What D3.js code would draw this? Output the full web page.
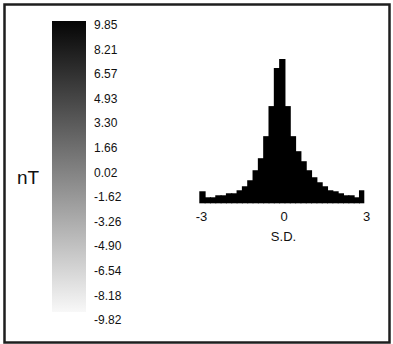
<!DOCTYPE html>
<html>
<head>
<meta charset="utf-8">
<script src="https://cdn.jsdelivr.net/npm/d3@7"></script>
<style>
    body { margin: 0; background: #fff; }
    text { font-family: Arial, "Liberation Sans", sans-serif; fill: #111; }
</style>
</head>
<body>
<div id="chart"></div>
<script>
// histogram of anomaly values, in standard deviations
const binCenters = [-3, -2.8, -2.6, -2.4, -2.2, -2, -1.8, -1.6, -1.4, -1.2, -1, -0.8, -0.6, -0.4, -0.2,
    0, 0.2, 0.4, 0.6, 0.8, 1, 1.2, 1.4, 1.6, 1.8, 2, 2.2, 2.4, 2.6, 2.8, 3];
const binCounts = [12, 6, 6, 8, 8, 10, 10, 13, 17, 23, 33, 45, 67, 97, 135,
    144, 97, 67, 52, 42, 33, 26, 21, 17, 13, 12, 10, 8, 8, 6, 13];
const xTicks = [-3, 0, 3];

// colour bar labels (nT)
const legendValues = [9.85, 8.21, 6.57, 4.93, 3.30, 1.66, 0.02, -1.62, -3.26, -4.90, -6.54, -8.18, -9.82];
const legendLabels = ['9.85', '8.21', '6.57', '4.93', '3.30', '1.66', '0.02', '-1.62', '-3.26', '-4.90', '-6.54', '-8.18', '-9.82'];

class Figure {
    constructor(opts) {
        this.element = opts.element;
        this.WIDTH = 393;
        this.HEIGHT = 344;

        this.svg = d3.select(this.element)
            .append('svg')
            .attr('width', this.WIDTH)
            .attr('height', this.HEIGHT);

        // frame round the whole figure
        this.svg.append('rect')
            .attr('x', 4.5)
            .attr('y', 4.5)
            .attr('width', 385)
            .attr('height', 338)
            .attr('fill', 'none')
            .attr('stroke', '#1e1e1e')
            .attr('stroke-width', 2.5);

        this.drawLegend();
        this.drawHistogram();
    }

    drawLegend() {
        const BAR = { LEFT: 52, TOP: 21, WIDTH: 34, HEIGHT: 291 };

        const grad = this.svg.append('defs')
            .append('linearGradient')
            .attr('id', 'grey-ramp')
            .attr('x1', 0).attr('y1', 0)
            .attr('x2', 0).attr('y2', 1);
        grad.append('stop').attr('offset', '0%').attr('stop-color', '#050505');
        grad.append('stop').attr('offset', '100%').attr('stop-color', '#f8f8f8');

        this.svg.append('rect')
            .attr('x', BAR.LEFT)
            .attr('y', BAR.TOP)
            .attr('width', BAR.WIDTH)
            .attr('height', BAR.HEIGHT)
            .attr('fill', 'url(#grey-ramp)');

        const y = d3.scaleLinear()
            .domain([d3.min(legendValues), d3.max(legendValues)])
            .range([320, 25]);

        this.svg.selectAll('text.legend-label')
            .data(legendValues)
            .enter()
            .append('text')
            .attr('class', 'legend-label')
            .attr('x', 94)
            .attr('y', d => y(d))
            .attr('dy', '0.35em')
            .style('font-size', '12px')
            .text((d, i) => legendLabels[i]);

        this.svg.append('text')
            .attr('x', 17)
            .attr('y', 184)
            .style('font-size', '19px')
            .text('nT');
    }

    drawHistogram() {
        const BASE = 203.3;

        const x = d3.scaleBand()
            .domain(binCenters)
            .range([199.3, 364.3])
            .padding(0);

        const y = d3.scaleLinear()
            .domain([0, d3.max(binCounts)])
            .range([BASE, 59]);

        // widen each bar a little so neighbours overlap and no seams show
        this.svg.selectAll('rect.bin')
            .data(binCenters)
            .enter()
            .append('rect')
            .attr('class', 'bin')
            .attr('x', d => x(d))
            .attr('width', (d, i) => i === binCenters.length - 1 ? x.bandwidth() : x.bandwidth() + 1)
            .attr('y', (d, i) => y(binCounts[i]))
            .attr('height', (d, i) => BASE - y(binCounts[i]))
            .attr('fill', '#000');

        // axis labels only, no line or tick marks
        const xAxisScale = d3.scaleLinear()
            .domain([-3, 3])
            .range([201, 366]);

        const xAxisGroup = this.svg.append('g')
            .attr('transform', `translate(0, ${BASE + 4})`)
            .call(d3.axisBottom(xAxisScale)
                .tickValues(xTicks)
                .tickFormat(d => String(d))
                .tickSize(0)
                .tickPadding(4));
        xAxisGroup.select('.domain').remove();
        xAxisGroup.selectAll('text')
            .style('font-size', '13px')
            .style('font-family', 'Arial, "Liberation Sans", sans-serif')
            .attr('fill', '#111');

        this.svg.append('text')
            .attr('x', 283.5)
            .attr('y', 241)
            .attr('text-anchor', 'middle')
            .style('font-size', '13px')
            .text('S.D.');
    }
}

new Figure({ element: '#chart' });
</script>
</body>
</html>
